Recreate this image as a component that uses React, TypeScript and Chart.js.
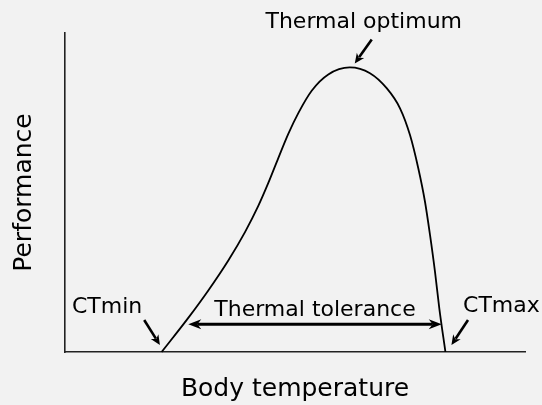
import React, { useEffect, useRef } from "react";
import { Chart, registerables } from "chart.js";

Chart.register(...registerables);

// Thermal performance curve (body temperature vs performance, arbitrary units 0-100)
const temperature = [21.0, 26.8, 31.15, 35.5, 39.13, 42.02, 44.2, 46.37, 48.54, 50.72, 53.63, 57.24, 61.9, 66.3, 69.93, 72.83, 75.0, 76.8, 78.26, 79.35, 80.43, 81.37, 82.7];
const performance = [0, 10.7, 19.3, 28.7, 37.6, 45.8, 53.0, 60.8, 68.4, 74.9, 81.9, 87.0, 89.2, 87.4, 82.7, 76.4, 68.0, 57.6, 47.1, 36.7, 25.2, 13.7, 0];

const xAxisTitle = "Body temperature";
const yAxisTitle = "Performance";
const optimumLabel = "Thermal optimum";
const minLabel = "CTmin";
const maxLabel = "CTmax";
const toleranceLabel = "Thermal tolerance";
const toleranceRange = [26.8, 81.9];
const toleranceLevel = 8.7;

const FONT = "'DejaVu Sans', 'Noto Sans', sans-serif";

function head(ctx: CanvasRenderingContext2D, x1: number, y1: number, x2: number, y2: number, hl: number, hw: number) {
  const a = Math.atan2(y2 - y1, x2 - x1);
  const c = Math.cos(a), s = Math.sin(a);
  ctx.beginPath();
  ctx.moveTo(x2, y2);
  ctx.lineTo(x2 - c * hl - s * hw, y2 - s * hl + c * hw);
  ctx.lineTo(x2 - c * hl * 0.7, y2 - s * hl * 0.7);
  ctx.lineTo(x2 - c * hl + s * hw, y2 - s * hl - c * hw);
  ctx.closePath();
  ctx.fill();
}

function arrow(ctx: CanvasRenderingContext2D, x1: number, y1: number, x2: number, y2: number, w: number, hl: number, hw: number) {
  const a = Math.atan2(y2 - y1, x2 - x1);
  const c = Math.cos(a), s = Math.sin(a);
  ctx.lineWidth = w;
  ctx.beginPath();
  ctx.moveTo(x1, y1);
  ctx.lineTo(x2 - c * hl * 0.75, y2 - s * hl * 0.75);
  ctx.stroke();
  head(ctx, x1, y1, x2, y2, hl, hw);
}

const annotate = {
  id: "annotate",
  afterDatasetsDraw(chart: any) {
    const { ctx, scales } = chart;
    const px = (v: number) => scales.x.getPixelForValue(v);
    const py = (v: number) => scales.y.getPixelForValue(v);
    const iMax = performance.indexOf(Math.max(...performance));
    const last = temperature.length - 1;
    const peak = { x: px(temperature[iMax]), y: py(performance[iMax]) };
    const lo = { x: px(temperature[0]), y: py(performance[0]) };
    const hi = { x: px(temperature[last]), y: py(performance[last]) };

    ctx.save();
    ctx.fillStyle = "#000";
    ctx.strokeStyle = "#000";
    ctx.lineCap = "butt";
    ctx.font = `22px ${FONT}`;
    ctx.textBaseline = "alphabetic";

    ctx.textAlign = "center";
    ctx.fillText(optimumLabel, peak.x + 14, peak.y - 39);
    arrow(ctx, peak.x + 22, peak.y - 28, peak.x + 5, peak.y - 4, 2.6, 10, 4.5);

    ctx.textAlign = "right";
    ctx.fillText(minLabel, lo.x - 19.4, lo.y - 38.7);
    arrow(ctx, lo.x - 17.4, lo.y - 32, lo.x - 1.7, lo.y - 7, 2.6, 10, 4.5);

    ctx.textAlign = "left";
    ctx.fillText(maxLabel, hi.x + 17.6, hi.y - 39.7);
    arrow(ctx, hi.x + 22.6, hi.y - 32, hi.x + 6, hi.y - 7, 2.6, 10, 4.5);

    const ty = py(toleranceLevel);
    const tx1 = px(toleranceRange[0]);
    const tx2 = px(toleranceRange[1]);
    ctx.lineWidth = 3;
    ctx.beginPath();
    ctx.moveTo(tx1 + 9, ty);
    ctx.lineTo(tx2 - 9, ty);
    ctx.stroke();
    head(ctx, tx2, ty, tx1, ty, 13, 5);
    head(ctx, tx1, ty, tx2, ty, 13, 5);
    ctx.textAlign = "center";
    ctx.fillText(toleranceLabel, (tx1 + tx2) / 2, ty - 8.5);
    ctx.restore();
  },
};

export default function App() {
  const ref = useRef<HTMLCanvasElement | null>(null);

  useEffect(() => {
    if (!ref.current) return;
    const chart = new Chart(ref.current, {
      type: "line",
      data: {
        datasets: [
          {
            data: temperature.map((t, i) => ({ x: t, y: performance[i] })),
            borderColor: "#000",
            borderWidth: 1.8,
            pointRadius: 0,
            fill: false,
            cubicInterpolationMode: "monotone",
            clip: false as any,
          },
        ],
      },
      options: {
        animation: false,
        responsive: false,
        events: [],
        layout: { padding: { top: 33, right: 17, bottom: 0, left: 0 } },
        plugins: { legend: { display: false }, tooltip: { enabled: false } },
        scales: {
          x: {
            type: "linear",
            min: 0,
            max: 100,
            grid: { display: false, drawTicks: false },
            ticks: { display: false },
            border: { display: true, color: "#222", width: 1.6 },
            title: {
              display: true,
              text: xAxisTitle,
              color: "#000",
              font: { size: 25, family: FONT },
              padding: { top: 22, bottom: 1 },
            },
          },
          y: {
            type: "linear",
            min: 0,
            max: 100,
            grid: { display: false, drawTicks: false },
            ticks: { display: false },
            border: { display: true, color: "#222", width: 1.6 },
            title: {
              display: true,
              text: yAxisTitle,
              color: "#000",
              font: { size: 25, family: FONT },
              padding: { top: 9.6, bottom: 25.4 },
            },
          },
        },
      },
      plugins: [annotate],
    });
    return () => chart.destroy();
  }, []);

  return (
    <div style={{ position: "fixed", left: 0, top: 0, width: 542, height: 405, background: "#f2f2f2" }}>
      <canvas ref={ref} width={542} height={405} style={{ display: "block", width: 542, height: 405 }} />
    </div>
  );
}
